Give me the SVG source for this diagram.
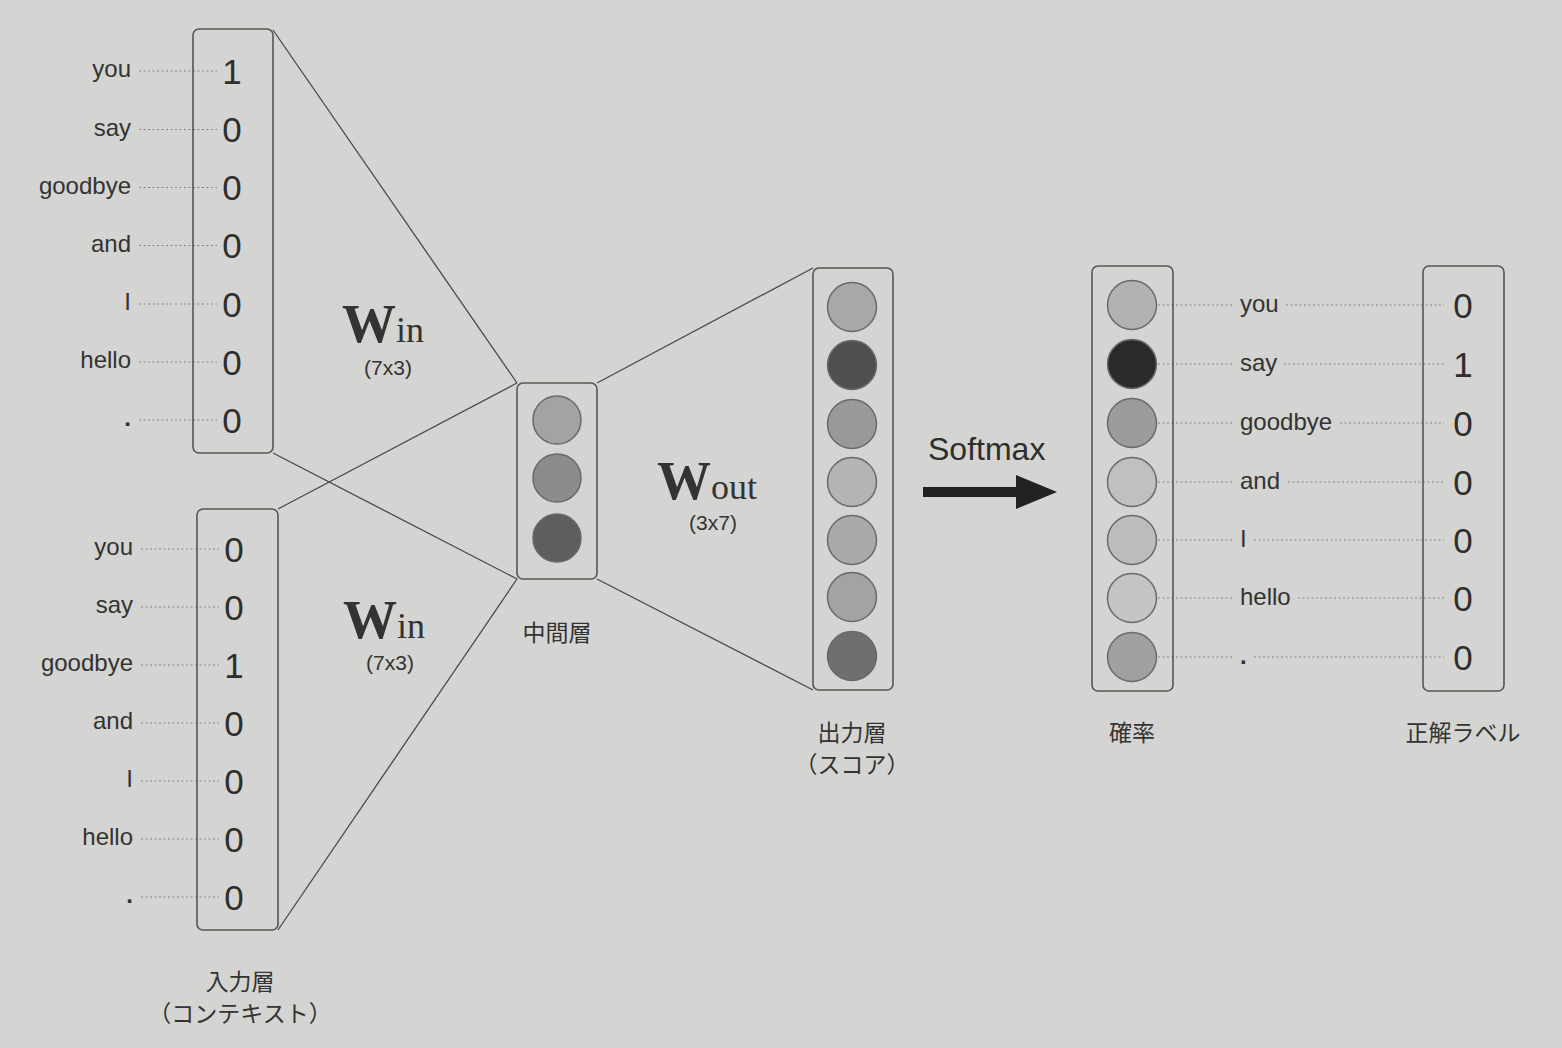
<svg xmlns="http://www.w3.org/2000/svg" width="1562" height="1048" viewBox="0 0 1562 1048">
<defs>
<style>
.bg{fill:#d4d4d2}
.box{fill:none;stroke:#555553;stroke-width:1.6}
.con{stroke:#4a4a48;stroke-width:1.3;fill:none}
.dot{stroke:#858583;stroke-width:1.2;stroke-dasharray:2 2.5;fill:none}
.cir{stroke:#6a6a68;stroke-width:1.5}
.lbl{font-family:"Liberation Sans",Arial,sans-serif;font-size:24px;fill:#333331}
.num{font-family:"Liberation Sans",Arial,sans-serif;font-size:35px;fill:#2e2e2c;text-anchor:middle}
.jp{font-family:"Noto Sans CJK JP","Noto Sans",sans-serif;font-size:23px;fill:#333331;text-anchor:middle}
.dim{font-family:"Liberation Sans",Arial,sans-serif;font-size:21px;fill:#333331;text-anchor:middle}
.W{font-family:"Liberation Serif","Times New Roman",serif;font-weight:bold;font-size:54px;fill:#333331}
.sub{font-family:"Liberation Serif","Times New Roman",serif;font-size:36px;fill:#333331}
</style>
</defs>
<rect class="bg" x="0" y="0" width="1562" height="1048"/>

<g id="connectors">
<line class="con" x1="273" y1="30" x2="517" y2="383"/>
<line class="con" x1="273" y1="453" x2="517" y2="579"/>
<line class="con" x1="278" y1="509" x2="517" y2="383"/>
<line class="con" x1="278" y1="930" x2="517" y2="579"/>
<line class="con" x1="597" y1="383" x2="813" y2="268"/>
<line class="con" x1="597" y1="579" x2="813" y2="690"/>
<polygon points="923,487 1016,487 1016,475 1057,492 1016,509 1016,497 923,497" fill="#222220"/>
</g>

<g id="input-top">
<g class="dot">
<line x1="139" y1="71" x2="217" y2="71"/>
<line x1="139" y1="129.5" x2="217" y2="129.5"/>
<line x1="139" y1="187.5" x2="217" y2="187.5"/>
<line x1="139" y1="245.5" x2="217" y2="245.5"/>
<line x1="139" y1="304" x2="217" y2="304"/>
<line x1="139" y1="362" x2="217" y2="362"/>
<line x1="139" y1="420" x2="217" y2="420"/>
</g>
<rect class="box" x="193" y="29" width="80" height="424" rx="6"/>
<g class="lbl" text-anchor="end">
<text x="131" y="77">you</text>
<text x="131" y="135.5">say</text>
<text x="131" y="193.5">goodbye</text>
<text x="131" y="251.5">and</text>
<text x="131" y="310">I</text>
<text x="131" y="368">hello</text>
<text x="131" y="426" font-weight="bold">.</text>
</g>
<g class="num">
<text x="232" y="84">1</text>
<text x="232" y="142">0</text>
<text x="232" y="200">0</text>
<text x="232" y="258">0</text>
<text x="232" y="316.5">0</text>
<text x="232" y="374.5">0</text>
<text x="232" y="432.5">0</text>
</g>
</g>

<g id="input-bottom">
<g class="dot">
<line x1="141" y1="549" x2="219" y2="549"/>
<line x1="141" y1="607" x2="219" y2="607"/>
<line x1="141" y1="665" x2="219" y2="665"/>
<line x1="141" y1="723" x2="219" y2="723"/>
<line x1="141" y1="781" x2="219" y2="781"/>
<line x1="141" y1="839" x2="219" y2="839"/>
<line x1="141" y1="897" x2="219" y2="897"/>
</g>
<rect class="box" x="197" y="509" width="81" height="421" rx="6"/>
<g class="lbl" text-anchor="end">
<text x="133" y="555">you</text>
<text x="133" y="613">say</text>
<text x="133" y="671">goodbye</text>
<text x="133" y="729">and</text>
<text x="133" y="787">I</text>
<text x="133" y="845">hello</text>
<text x="133" y="903" font-weight="bold">.</text>
</g>
<g class="num">
<text x="234" y="561.5">0</text>
<text x="234" y="619.5">0</text>
<text x="234" y="677.5">1</text>
<text x="234" y="735.5">0</text>
<text x="234" y="793.5">0</text>
<text x="234" y="851.5">0</text>
<text x="234" y="909.5">0</text>
</g>
<text class="jp" x="240" y="990">入力層</text>
<text class="jp" x="240" y="1022">（コンテキスト）</text>
</g>

<g id="win-top">
<text x="342" y="342"><tspan class="W">W</tspan><tspan class="sub">in</tspan></text>
<text class="dim" x="388" y="375">(7x3)</text>
</g>
<g id="win-bottom">
<text x="343" y="638"><tspan class="W">W</tspan><tspan class="sub">in</tspan></text>
<text class="dim" x="390" y="670">(7x3)</text>
</g>

<g id="hidden">
<rect class="box" x="517" y="383" width="80" height="196" rx="6"/>
<circle class="cir" cx="557" cy="420" r="24" fill="#a3a3a1"/>
<circle class="cir" cx="557" cy="478" r="24" fill="#8c8c8a"/>
<circle class="cir" cx="557" cy="538" r="24" fill="#5e5e5c"/>
<text class="jp" x="557" y="641">中間層</text>
</g>

<g id="wout">
<text x="657" y="499"><tspan class="W">W</tspan><tspan class="sub" font-size="39px">out</tspan></text>
<text class="dim" x="713" y="530">(3x7)</text>
</g>

<g id="output">
<rect class="box" x="813" y="268" width="80" height="422" rx="6"/>
<circle class="cir" cx="852" cy="307" r="24.5" fill="#a8a8a6"/>
<circle class="cir" cx="852" cy="365" r="24.5" fill="#4f4f4d"/>
<circle class="cir" cx="852" cy="424" r="24.5" fill="#999997"/>
<circle class="cir" cx="852" cy="482" r="24.5" fill="#b4b4b2"/>
<circle class="cir" cx="852" cy="540" r="24.5" fill="#a9a9a7"/>
<circle class="cir" cx="852" cy="597" r="24.5" fill="#a3a3a1"/>
<circle class="cir" cx="852" cy="656" r="24.5" fill="#6f6f6d"/>
<text class="jp" x="852" y="741">出力層</text>
<text class="jp" x="852" y="773">（スコア）</text>
</g>

<g id="softmax">
<text x="928" y="460" font-family="Liberation Sans, Arial, sans-serif" font-size="32" fill="#2e2e2c">Softmax</text>
</g>

<g id="probability">
<g class="dot">
<line x1="1158" y1="305" x2="1234" y2="305"/>
<line x1="1158" y1="364" x2="1234" y2="364"/>
<line x1="1158" y1="423" x2="1234" y2="423"/>
<line x1="1158" y1="482" x2="1234" y2="482"/>
<line x1="1158" y1="540" x2="1234" y2="540"/>
<line x1="1158" y1="598" x2="1234" y2="598"/>
<line x1="1158" y1="657" x2="1234" y2="657"/>
<line x1="1286" y1="305" x2="1444" y2="305"/>
<line x1="1284" y1="364" x2="1444" y2="364"/>
<line x1="1340" y1="423" x2="1444" y2="423"/>
<line x1="1288" y1="482" x2="1444" y2="482"/>
<line x1="1254" y1="540" x2="1444" y2="540"/>
<line x1="1298" y1="598" x2="1444" y2="598"/>
<line x1="1254" y1="657" x2="1444" y2="657"/>
</g>
<rect class="box" x="1092" y="266" width="81" height="425" rx="6"/>
<circle class="cir" cx="1132" cy="305" r="24.5" fill="#b2b2b0"/>
<circle class="cir" cx="1132" cy="364" r="24.5" fill="#2a2a2a"/>
<circle class="cir" cx="1132" cy="423" r="24.5" fill="#9c9c9a"/>
<circle class="cir" cx="1132" cy="482" r="24.5" fill="#c0c0be"/>
<circle class="cir" cx="1132" cy="540" r="24.5" fill="#bcbcba"/>
<circle class="cir" cx="1132" cy="598" r="24.5" fill="#c4c4c2"/>
<circle class="cir" cx="1132" cy="657" r="24.5" fill="#a0a09e"/>
<text class="jp" x="1132" y="741">確率</text>
</g>

<g id="word-labels">
<g class="lbl">
<text x="1240" y="312">you</text>
<text x="1240" y="371">say</text>
<text x="1240" y="430">goodbye</text>
<text x="1240" y="489">and</text>
<text x="1240" y="547">I</text>
<text x="1240" y="605">hello</text>
<text x="1240" y="664" font-weight="bold">.</text>
</g>
</g>

<g id="answer">
<rect class="box" x="1423" y="266" width="81" height="425" rx="6"/>
<g class="num">
<text x="1463" y="317.5">0</text>
<text x="1463" y="376.5">1</text>
<text x="1463" y="435.5">0</text>
<text x="1463" y="494.5">0</text>
<text x="1463" y="552.5">0</text>
<text x="1463" y="610.5">0</text>
<text x="1463" y="669.5">0</text>
</g>
<text class="jp" x="1463" y="741">正解ラベル</text>
</g>
</svg>
